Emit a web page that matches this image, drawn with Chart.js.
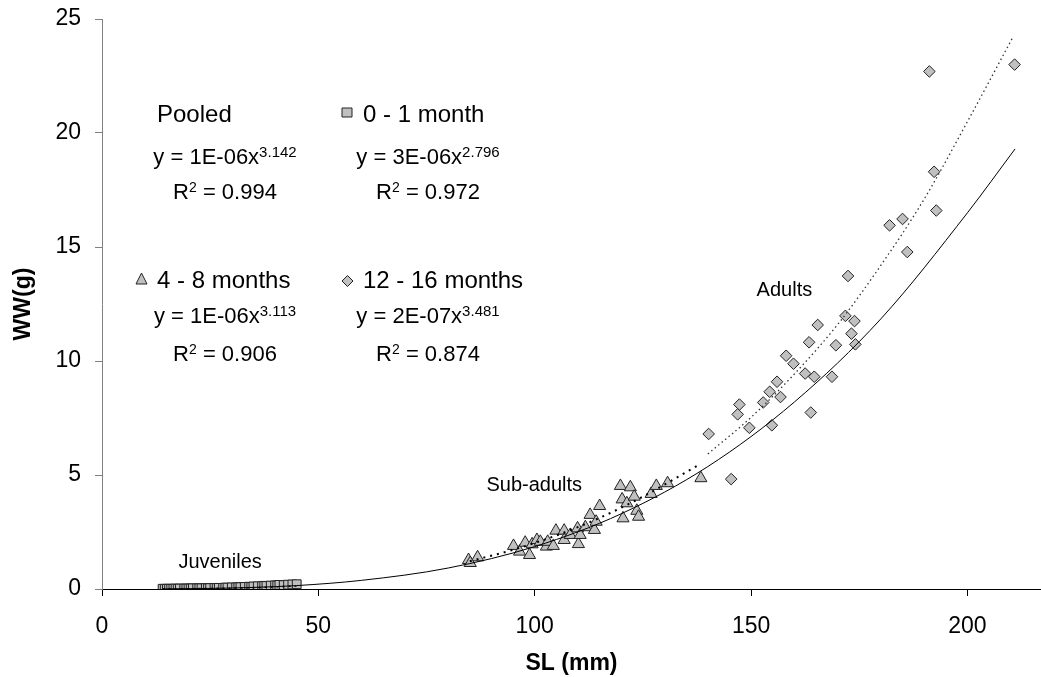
<!DOCTYPE html>
<html lang="en">
<head>
<meta charset="UTF-8">
<title>SL - WW</title>
<style>
    body {
        margin: 0;
        background: #fff;
    }
    #wrap {
        width: 1041px;
        height: 677px;
    }
</style>
</head>
<body>
<div id="wrap"><canvas id="myChart" width="1041" height="677"></canvas></div>
<script src="https://cdn.jsdelivr.net/npm/chart.js"></script>
<script>
// 0 - 1 month (juveniles)
var juvSL = [14, 14.5, 15, 15.5, 16, 16.5, 17, 17.5, 18, 19, 19.5, 20, 20.5, 21, 22, 22.5, 23, 24, 24.5, 25, 26, 26.5, 27, 28, 28.5, 29, 30, 31, 31.5, 32, 33, 34, 34.5, 35, 36, 37, 37.5, 38, 39, 40, 40.5, 41, 42, 43, 44, 45];
var juvWW = [0.01, 0.01, 0.01, 0.01, 0.01, 0.01, 0.02, 0.01, 0.02, 0.02, 0.02, 0.02, 0.02, 0.03, 0.03, 0.03, 0.03, 0.04, 0.03, 0.04, 0.05, 0.04, 0.05, 0.05, 0.06, 0.06, 0.07, 0.07, 0.08, 0.08, 0.09, 0.1, 0.09, 0.11, 0.12, 0.12, 0.14, 0.13, 0.15, 0.16, 0.15, 0.18, 0.17, 0.19, 0.2, 0.21];

// 4 - 8 months (sub-adults)
var subSL = [84.7, 86.8, 85.1, 95.1, 96.5, 97.8, 98.8, 99.4, 100.5, 101.3, 102.7, 103.0, 104.3, 104.9, 106.8, 106.8, 108.2, 109.9, 110.1, 110.5, 111.7, 112.8, 113.8, 114.2, 115.0, 119.8, 120.2, 120.4, 122.1, 121.3, 123.0, 123.6, 124.0, 126.9, 128.1, 130.7, 138.4];
var subWW = [1.27, 1.39, 1.14, 1.89, 1.64, 2.03, 1.49, 1.96, 2.15, 2.07, 1.86, 2.07, 1.89, 2.56, 2.56, 2.15, 2.37, 2.66, 1.97, 2.37, 2.71, 3.25, 2.59, 2.95, 3.64, 4.52, 3.93, 3.10, 4.46, 3.76, 4.05, 3.43, 3.17, 4.17, 4.52, 4.64, 4.86];

// 12 - 16 months (adults)
var adSL = [210.9, 191.2, 192.3, 192.8, 182.0, 185.0, 186.1, 172.4, 171.8, 173.9, 173.2, 174.1, 165.4, 163.4, 169.6, 158.1, 159.8, 162.5, 164.6, 168.7, 156.0, 154.3, 156.8, 152.8, 147.3, 146.9, 149.6, 154.8, 163.8, 140.2, 145.4];
var adWW = [23.0, 22.7, 18.3, 16.6, 15.95, 16.23, 14.78, 13.73, 11.98, 11.75, 11.2, 10.73, 11.58, 10.82, 10.69, 10.23, 9.88, 9.45, 9.31, 9.31, 9.09, 8.65, 8.42, 8.18, 8.09, 7.66, 7.07, 7.18, 7.74, 6.8, 4.82];

// trend lines
var pooledSL = [14, 25, 35, 45, 60, 80, 100, 120, 140, 160, 180, 200, 211];
var pooledWW = [0.004, 0.024, 0.07, 0.15, 0.38, 0.92, 1.86, 3.3, 5.37, 8.2, 11.85, 16.5, 19.3];
var fitJuvSL = [14, 25, 35, 45];
var fitJuvWW = [0.005, 0.025, 0.06, 0.13];
var fitSubSL = [85, 95, 105, 115, 125, 138];
var fitSubWW = [1.22, 1.72, 2.35, 3.12, 4.05, 5.45];
var fitAdSL = [140, 150, 160, 170, 180, 190, 200, 210.5];
var fitAdWW = [5.92, 7.53, 9.43, 11.6, 14.2, 17.1, 20.5, 24.2];

// axis ticks
var xTicks = [0, 50, 100, 150, 200];
var yTicks = [0, 5, 10, 15, 20, 25];

// legend text
var groupNames = ['Pooled', '0 - 1 month', '4 - 8 months', '12 - 16 months'];
var eqCoef = ['1E-06', '3E-06', '1E-06', '2E-07'];
var eqPow = ['3.142', '2.796', '3.113', '3.481'];
var eqR2 = ['0.994', '0.972', '0.906', '0.874'];

// group notes on the plot
var noteText = ['Juveniles', 'Sub-adults', 'Adults'];
var noteSL = [27.3, 99.9, 157.7];
var noteWW = [0.92, 4.28, 12.85];

function pts(xs, ys) {
    return xs.map(function(x, i) { return {x: x, y: ys[i]}; });
}

var FAMILY = '"Liberation Sans", Arial, sans-serif';
Chart.defaults.font.family = FAMILY;
Chart.defaults.color = '#000';

function drawMarker(ctx, kind, x, y) {
    ctx.save();
    ctx.fillStyle = '#c0c0c0';
    ctx.strokeStyle = '#222';
    ctx.lineWidth = 1;
    ctx.beginPath();
    if (kind === 'rect') {
        ctx.rect(x - 5, y - 4.5, 10, 9);
    } else if (kind === 'triangle') {
        ctx.moveTo(x, y - 6);
        ctx.lineTo(x + 5.5, y + 5);
        ctx.lineTo(x - 5.5, y + 5);
        ctx.closePath();
    } else {
        ctx.moveTo(x, y - 5.5);
        ctx.lineTo(x + 5.5, y);
        ctx.lineTo(x, y + 5.5);
        ctx.lineTo(x - 5.5, y);
        ctx.closePath();
    }
    ctx.fill();
    ctx.stroke();
    ctx.restore();
}

// draws a line of text centred on cx; parts = [[text, isSup], ...]
function drawParts(ctx, cx, base, parts, size, supSize) {
    var total = 0;
    parts.forEach(function(p) {
        ctx.font = (p[1] ? supSize : size) + 'px ' + FAMILY;
        total += ctx.measureText(p[0]).width;
    });
    var x = cx - total / 2;
    parts.forEach(function(p) {
        ctx.font = (p[1] ? supSize : size) + 'px ' + FAMILY;
        ctx.fillText(p[0], x, p[1] ? base - 7 : base);
        x += ctx.measureText(p[0]).width;
    });
}

var notesPlugin = {
    id: 'notes',
    afterDatasetsDraw: function(chart) {
        var ctx = chart.ctx;
        var xs = chart.scales.x, ys = chart.scales.y;
        ctx.save();
        ctx.fillStyle = '#000';
        ctx.textBaseline = 'alphabetic';

        // group notes
        ctx.font = '20px ' + FAMILY;
        ctx.textAlign = 'center';
        noteText.forEach(function(t, i) {
            ctx.fillText(t, xs.getPixelForValue(noteSL[i]), ys.getPixelForValue(noteWW[i]));
        });

        // legend blocks with equations
        var titleX = [157, 363, 157, 363];
        var titleBase = [122, 122, 288, 288];
        var eqX = [225, 428, 225, 428];
        var eqBase = [164, 164, 323, 323];
        var r2Base = [199, 199, 361, 361];
        var markers = [null, ['rect', 347, 112.5], ['triangle', 141.5, 279], ['diamond', 347.5, 281]];

        for (var i = 0; i < groupNames.length; i++) {
            if (markers[i]) drawMarker(ctx, markers[i][0], markers[i][1], markers[i][2]);
            ctx.textAlign = 'left';
            ctx.font = '24px ' + FAMILY;
            ctx.fillText(groupNames[i], titleX[i], titleBase[i]);
            drawParts(ctx, eqX[i], eqBase[i], [['y = ' + eqCoef[i] + 'x', false], [eqPow[i], true]], 22, 15);
            drawParts(ctx, eqX[i], r2Base[i], [['R', false], ['2', true], [' = ' + eqR2[i], false]], 22, 14);
        }
        ctx.restore();
    }
};

var markerStyle = {
    backgroundColor: '#c0c0c0',
    borderColor: '#222',
    borderWidth: 1
};

var ctx = document.getElementById('myChart').getContext('2d');
window.myChart = new Chart(ctx, {
    type: 'scatter',
    data: {
        datasets: [
            {
                label: 'Pooled fit',
                data: pts(pooledSL, pooledWW),
                showLine: true,
                borderColor: '#000',
                borderWidth: 1,
                pointRadius: 0,
                cubicInterpolationMode: 'monotone',
                order: 0
            },
            {
                label: '0 - 1 month fit',
                data: pts(fitJuvSL, fitJuvWW),
                showLine: true,
                borderColor: '#000',
                borderWidth: 1.5,
                borderDash: [2, 4],
                pointRadius: 0,
                cubicInterpolationMode: 'monotone',
                order: 0
            },
            {
                label: '4 - 8 months fit',
                data: pts(fitSubSL, fitSubWW),
                showLine: true,
                borderColor: '#000',
                borderWidth: 2,
                borderDash: [2, 5],
                pointRadius: 0,
                cubicInterpolationMode: 'monotone',
                order: 0
            },
            {
                label: '12 - 16 months fit',
                data: pts(fitAdSL, fitAdWW),
                showLine: true,
                borderColor: '#333',
                borderWidth: 1.3,
                borderDash: [1.5, 3],
                pointRadius: 0,
                cubicInterpolationMode: 'monotone',
                order: 0
            },
            Object.assign({
                label: '0 - 1 month',
                data: pts(juvSL, juvWW),
                pointStyle: 'rect',
                pointRadius: 6.2,
                order: 1
            }, markerStyle),
            Object.assign({
                label: '4 - 8 months',
                data: pts(subSL, subWW),
                pointStyle: 'triangle',
                pointRadius: 7,
                order: 1
            }, markerStyle),
            Object.assign({
                label: '12 - 16 months',
                data: pts(adSL, adWW),
                pointStyle: 'rectRot',
                pointRadius: 5.8,
                order: 1
            }, markerStyle)
        ]
    },
    options: {
        responsive: false,
        animation: false,
        devicePixelRatio: 1,
        layout: { autoPadding: false, padding: { top: 19, left: 0, right: 0, bottom: 0 } },
        plugins: {
            legend: { display: false },
            tooltip: { enabled: false }
        },
        scales: {
            x: {
                type: 'linear',
                min: 0,
                max: 217,
                afterBuildTicks: function(s) { s.ticks = xTicks.map(function(v) { return {value: v}; }); },
                afterFit: function(s) { s.height = 88; s.paddingLeft = 0; s.paddingRight = 0; },
                border: { color: '#000', width: 1 },
                grid: { drawOnChartArea: false, tickLength: 7, color: '#000' },
                ticks: { font: { size: 23 }, padding: 17, color: '#000', maxRotation: 0 },
                title: { display: true, text: 'SL (mm)', color: '#000', font: { size: 23, weight: 'bold' }, padding: { top: 0, bottom: 0 } }
            },
            y: {
                type: 'linear',
                min: 0,
                max: 25,
                afterBuildTicks: function(s) { s.ticks = yTicks.map(function(v) { return {value: v}; }); },
                afterFit: function(s) { s.width = 102; s.paddingTop = 0; s.paddingBottom = 0; },
                border: { color: '#808080', width: 1 },
                grid: { drawOnChartArea: false, tickLength: 7, color: '#808080' },
                ticks: { font: { size: 23 }, padding: 14, color: '#000' },
                title: { display: true, text: 'WW(g)', color: '#000', font: { size: 23, weight: 'bold' }, padding: { top: 10, bottom: 0 } }
            }
        }
    },
    plugins: [notesPlugin]
});
</script>
</body>
</html>
